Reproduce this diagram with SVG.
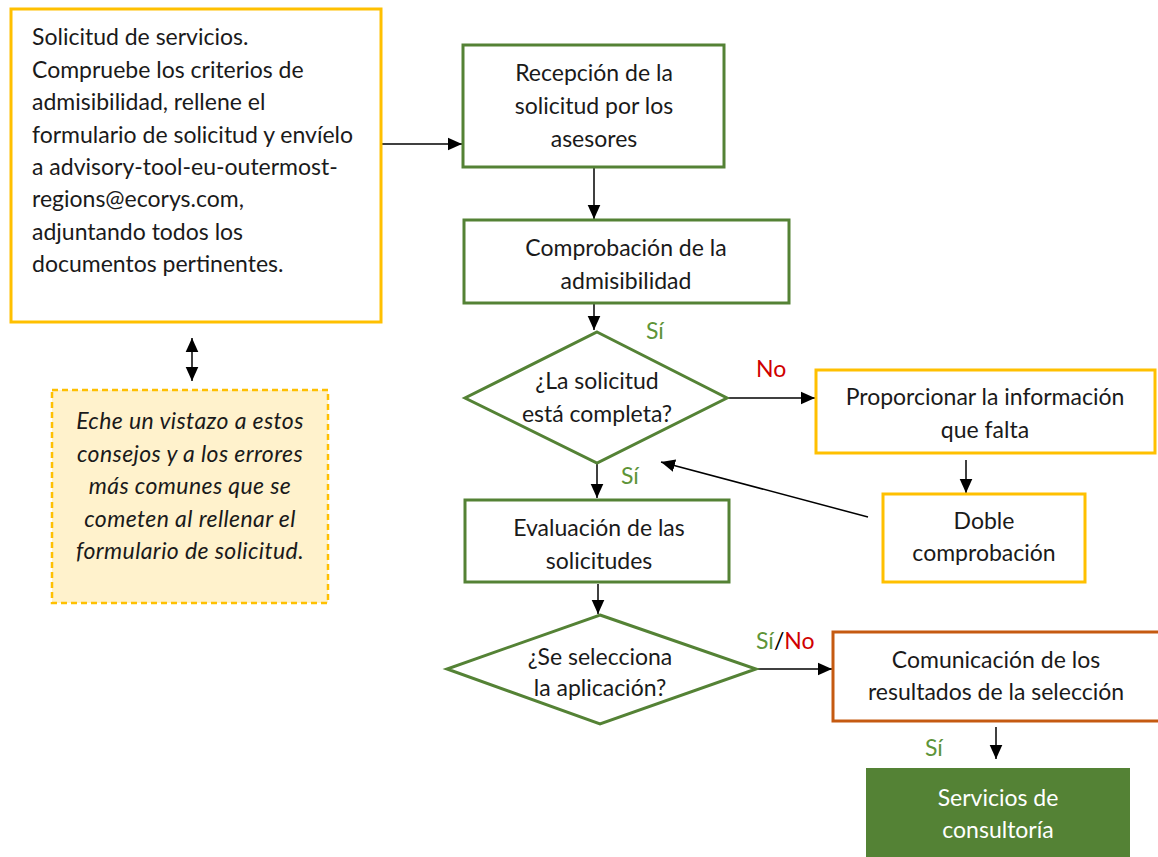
<svg xmlns="http://www.w3.org/2000/svg" width="1158" height="857" viewBox="0 0 1158 857">
<style>
text{font-family:Lato,"Open Sans","Noto Sans",sans-serif;font-size:23px;fill:#1a1a1a}
.c{text-anchor:middle}
.g{fill:none;stroke:#548235;stroke-width:3}
.y{fill:#fff;stroke:#FFC000;stroke-width:3}
.o{fill:#fff;stroke:#C55A11;stroke-width:3}
.ln{stroke:#000;stroke-width:1.5;fill:none}
.lg{fill:#5e9438}
.lr{fill:#d00000}
.it{font-style:italic;letter-spacing:0.4px}
</style>
<defs>
<marker id="a" viewBox="0 0 10 10" refX="10" refY="5" markerWidth="14" markerHeight="14" orient="auto-start-reverse" markerUnits="userSpaceOnUse">
<path d="M0,0.5 L10,5 L0,9.5 z" fill="#000"/>
</marker>
</defs>
<rect width="1158" height="857" fill="#fff"/>
<g id="connectors">
<line class="ln" x1="376" y1="144" x2="462" y2="144" marker-end="url(#a)"/>
<line class="ln" x1="594" y1="168" x2="594" y2="219" marker-end="url(#a)"/>
<line class="ln" x1="594" y1="304" x2="594" y2="330" marker-end="url(#a)"/>
<line class="ln" x1="728" y1="398" x2="815" y2="398" marker-end="url(#a)"/>
<line class="ln" x1="966" y1="460" x2="966" y2="493" marker-end="url(#a)"/>
<line class="ln" x1="868" y1="517" x2="661" y2="462" marker-end="url(#a)"/>
<line class="ln" x1="597" y1="464" x2="597" y2="498" marker-end="url(#a)"/>
<line class="ln" x1="598" y1="584" x2="598" y2="614" marker-end="url(#a)"/>
<line class="ln" x1="757" y1="669" x2="832" y2="669" marker-end="url(#a)"/>
<line class="ln" x1="996" y1="727" x2="996" y2="759" marker-end="url(#a)"/>
<line class="ln" x1="192" y1="338" x2="192" y2="381" marker-start="url(#a)" marker-end="url(#a)"/>
<text class="lg" x="646" y="339">Sí</text>
<text class="lr" x="756" y="377">No</text>
<text class="lg" x="621" y="484">Sí</text>
<text x="756" y="649"><tspan class="lg">Sí</tspan><tspan fill="#000">/</tspan><tspan class="lr">No</tspan></text>
<text class="lg" x="925" y="756">Sí</text>
</g>
<g id="solicitud">
<rect class="y" x="11" y="9" width="370" height="313"/>
<text x="32" y="45">Solicitud de servicios.</text>
<text x="32" y="78">Compruebe los criterios de</text>
<text x="32" y="110">admisibilidad, rellene el</text>
<text x="32" y="143">formulario de solicitud y envíelo</text>
<text x="32" y="175">a advisory-tool-eu-outermost-</text>
<text x="32" y="207">regions@ecorys.com,</text>
<text x="32" y="240">adjuntando todos los</text>
<text x="32" y="272">documentos pertinentes.</text>
</g>
<g id="consejos">
<rect x="52" y="390" width="276" height="213" fill="#FFF2CC" stroke="#FFC000" stroke-width="2.5" stroke-dasharray="6,4"/>
<text class="c it" x="190" y="429">Eche un vistazo a estos</text>
<text class="c it" x="190" y="462">consejos y a los errores</text>
<text class="c it" x="190" y="494">más comunes que se</text>
<text class="c it" x="190" y="527">cometen al rellenar el</text>
<text class="c it" x="190" y="559">formulario de solicitud.</text>
</g>
<g id="recepcion">
<rect class="g" x="463" y="45" width="261" height="122"/>
<text class="c" x="594" y="81">Recepción de la</text>
<text class="c" x="594" y="114">solicitud por los</text>
<text class="c" x="594" y="147">asesores</text>
</g>
<g id="comprobacion">
<rect class="g" x="464" y="220" width="325" height="83"/>
<text class="c" x="626" y="256">Comprobación de la</text>
<text class="c" x="626" y="289">admisibilidad</text>
</g>
<g id="completa">
<polygon class="g" points="597,332 727,398 597,463 465,398" fill="#fff"/>
<text class="c" x="597" y="389">¿La solicitud</text>
<text class="c" x="597" y="422">está completa?</text>
</g>
<g id="proporcionar">
<rect class="y" x="816" y="370" width="339" height="83"/>
<text class="c" x="985" y="405">Proporcionar la información</text>
<text class="c" x="985" y="438">que falta</text>
</g>
<g id="doble">
<rect class="y" x="883" y="494" width="202" height="88"/>
<text class="c" x="984" y="529">Doble</text>
<text class="c" x="984" y="561">comprobación</text>
</g>
<g id="evaluacion">
<rect class="g" x="465" y="500" width="264" height="82"/>
<text class="c" x="599" y="536">Evaluación de las</text>
<text class="c" x="599" y="569">solicitudes</text>
</g>
<g id="seleccion">
<polygon class="g" points="600,615 756,669 600,724 447,669" fill="#fff"/>
<text class="c" x="600" y="665">¿Se selecciona</text>
<text class="c" x="600" y="696">la aplicación?</text>
</g>
<g id="comunicacion">
<rect class="o" x="833" y="632" width="330" height="89"/>
<text class="c" x="996" y="668">Comunicación de los</text>
<text class="c" x="996" y="700">resultados de la selección</text>
</g>
<g id="servicios">
<rect x="866" y="768" width="264" height="95" fill="#548235"/>
<text class="c" x="998" y="806" style="fill:#fff">Servicios de</text>
<text class="c" x="998" y="838" style="fill:#fff">consultoría</text>
</g>
</svg>
